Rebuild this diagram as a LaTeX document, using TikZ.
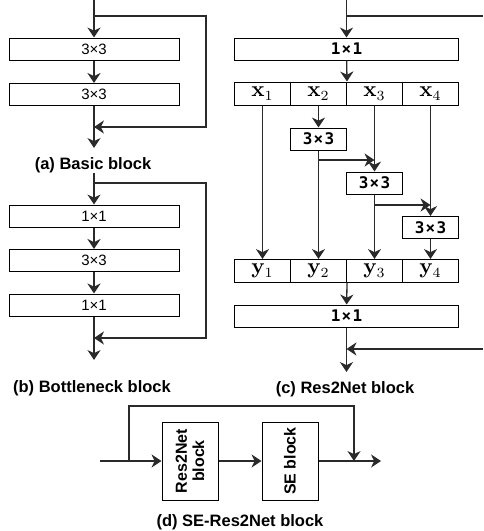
\documentclass[tikz,border=0pt]{standalone}
\usepackage{amsmath,amssymb,bm}
\usepackage[no-math]{fontspec}
\setmainfont{Liberation Sans}
\newfontfamily\monobf[LetterSpace=8]{DejaVu Sans Mono Bold}
\usetikzlibrary{arrows.meta,calc,positioning}
\definecolor{Wire}{HTML}{2A2A2A}

\begin{document}
\begin{tikzpicture}[x=0.5pt, y=-0.5pt,
  every node/.style={inner sep=0pt},
  wire/.style={draw=Wire, line width=0.65pt},
  arr/.style={wire, -{Stealth[length=5pt, width=6.6pt, inset=1.6pt]}},
  fat/.style={line width=1.1pt},
  conv/.style={draw, line width=0.5pt, minimum height=11pt, font=\fontsize{7.5}{9}\selectfont},
  wide/.style={conv, minimum width=85pt},
  cell/.style={draw, line width=0.5pt, minimum width=28pt, minimum height=11.5pt, font=\fontsize{10.5}{12}\selectfont},
  kern/.style={draw, line width=0.5pt, minimum height=11pt, font=\monobf\fontsize{8}{9}\selectfont},
  side/.style={draw, line width=0.5pt, minimum width=39pt, minimum height=28pt, rotate=90, align=center, font=\bfseries\fontsize{8}{8.6}\selectfont},
  caption/.style={font=\bfseries\fontsize{8.25}{10}\selectfont}]
  \useasboundingbox (0,0) rectangle (483,531);

  % (a) basic block
  \coordinate (ain) at (94,0);
  \coordinate (atap) at (94,16);
  \node[wide] (a1) at (94,49) {3×3};
  \node[wide] (a2) at (94,94.5) {3×3};
  \coordinate (ajoin) at (94,127);
  \coordinate (aout) at (94,148);
  \draw[arr] (ain) -- (a1);
  \draw[arr, fat] (a1) -- (a2);
  \draw[wire] (a2) -- (ajoin);
  \draw[arr] (ajoin) -- (aout);
  \draw[arr] (atap) -- ++(112,0) |- (ajoin);
  \node[caption] (acap) at (93,165) {(a) Basic block};

  % (b) bottleneck block
  \coordinate (bin) at (94,173);
  \coordinate (btap) at (94,183);
  \node[wide] (b1) at (94,216) {1×1};
  \node[wide] (b2) at (94,260.5) {3×3};
  \node[wide] (b3) at (94,305) {1×1};
  \coordinate (bjoin) at (94,338);
  \coordinate (bout) at (94,360);
  \draw[arr] (bin) -- (b1);
  \draw[arr, fat] (b1) -- (b2);
  \draw[arr, fat] (b2) -- (b3);
  \draw[wire] (b3) -- (bjoin);
  \draw[arr] (bjoin) -- (bout);
  \draw[arr] (btap) -- ++(112,0) |- (bjoin);
  \node[caption] (bcap) at (92,388) {(b) Bottleneck block};

  % (c) Res2Net block
  \coordinate (cin) at (346.5,0);
  \coordinate (ctap) at (346.5,16);
  \coordinate (cedge) at (483,16);
  \node[kern, minimum width=112pt] (c1) at (346.5,49) {1×1};
  \foreach \i/\cx in {1/262.5, 2/318.5, 3/374.5, 4/430.5} {
    \node[cell] (x\i) at (\cx,93.5) {$\mathbf{x}_{\i}$};
    \node[cell] (y\i) at (\cx,271) {$\mathbf{y}_{\i}$};
  }
  \node[kern, minimum width=28pt] (k2) at (318.5,139) {3×3};
  \node[kern, minimum width=28pt] (k3) at (374.5,183) {3×3};
  \node[kern, minimum width=28pt] (k4) at (430.5,227.5) {3×3};
  \node[kern, minimum width=112pt] (c2) at (346.5,316) {1×1};
  \coordinate (s2) at (318.5,160);
  \coordinate (m3) at (374.5,160);
  \coordinate (s3) at (374.5,205);
  \coordinate (m4) at (430.5,205);
  \coordinate (cjoin) at (346.5,349);
  \coordinate (cback) at (483,349);
  \coordinate (cout) at (346.5,372);
  \draw[arr] (cin) -- (c1);
  \draw[wire] (ctap) -- (cedge);
  \draw[arr] (c1) -- (x2.north east);
  \draw[arr] (x1) -- (y1);
  \draw[arr] (x2) -- (k2);
  \draw[arr] (k2) -- (y2);
  \draw[arr] (s2) -- (m3);
  \draw[arr] (x3) -- (k3);
  \draw[arr] (k3) -- (y3);
  \draw[arr] (s3) -- (m4);
  \draw[arr] (x4) -- (k4);
  \draw[arr] (k4) -- (y4);
  \draw[arr] (y2.south east) -- (c2);
  \draw[wire] (c2) -- (cjoin);
  \draw[arr] (cjoin) -- (cout);
  \draw[arr] (cback) -- (cjoin);
  \node[caption] (ccap) at (345,389) {(c) Res2Net block};

  % (d) SE-Res2Net block
  \coordinate (din) at (100,461);
  \coordinate (dtap) at (129,461);
  \node[side] (rn) at (190,461) {Res2Net\\block};
  \node[side] (se) at (290,461) {SE block};
  \coordinate (djoin) at (354,461);
  \coordinate (dout) at (381,461);
  \draw[arr] (din) -- (rn);
  \draw[arr] (rn) -- (se);
  \draw[wire] (se) -- (djoin);
  \draw[arr] (djoin) -- (dout);
  \draw[arr] (dtap) -- ++(0,-55) -| (djoin);
  \node[caption] (dcap) at (240,522) {(d) SE-Res2Net block};
\end{tikzpicture}
\end{document}
